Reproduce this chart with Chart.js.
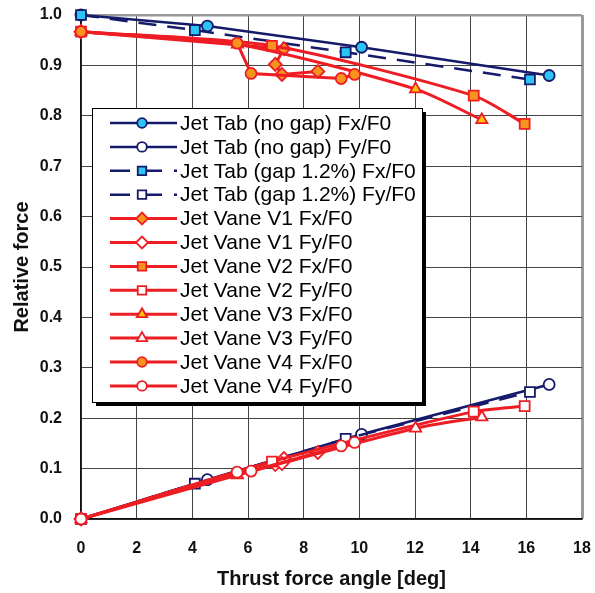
<!DOCTYPE html>
<html>
<head>
<meta charset="utf-8">
<script src="https://cdn.jsdelivr.net/npm/chart.js@4.4.1/dist/chart.umd.min.js"></script>
<style>
  body { margin: 0; background: #fff; }
  #wrap { width: 595px; height: 593px; position: relative; }
</style>
</head>
<body>
<div id="wrap"><canvas id="myChart"></canvas></div>
<script>
// series names (legend order)
const seriesNames = [
    "Jet Tab (no gap) Fx/F0", "Jet Tab (no gap) Fy/F0",
    "Jet Tab (gap 1.2%) Fx/F0", "Jet Tab (gap 1.2%) Fy/F0",
    "Jet Vane V1 Fx/F0", "Jet Vane V1 Fy/F0",
    "Jet Vane V2 Fx/F0", "Jet Vane V2 Fy/F0",
    "Jet Vane V3 Fx/F0", "Jet Vane V3 Fy/F0",
    "Jet Vane V4 Fx/F0", "Jet Vane V4 Fy/F0"
];

// thrust force angle [deg] per configuration
const tabNoGapAngle = [0, 4.54, 10.08, 16.82];
const tabGapAngle = [0, 4.09, 9.51, 16.13];
const vaneV1Angle = [0, 7.29, 6.98, 7.22, 8.51];
const vaneV2Angle = [0, 6.86, 14.11, 15.94];
const vaneV3Angle = [0, 5.62, 12.02, 14.40];
const vaneV4Angle = [0, 5.61, 6.11, 9.35, 9.83];

// relative forces
const tabNoGapFx = [1.0, 0.978, 0.936, 0.880];
const tabNoGapFy = [0, 0.078, 0.168, 0.267];
const tabGapFx = [1.0, 0.970, 0.926, 0.872];
const tabGapFy = [0, 0.070, 0.159, 0.252];
const vaneV1Fx = [0.967, 0.933, 0.902, 0.882, 0.888];
const vaneV1Fy = [0, 0.120, 0.108, 0.110, 0.132];
const vaneV2Fx = [0.967, 0.939, 0.840, 0.784];
const vaneV2Fy = [0, 0.114, 0.213, 0.224];
const vaneV3Fx = [0.967, 0.942, 0.853, 0.792];
const vaneV3Fy = [0, 0.087, 0.180, 0.202];
const vaneV4Fx = [0.967, 0.944, 0.884, 0.874, 0.882];
const vaneV4Fy = [0, 0.093, 0.095, 0.145, 0.152];

const xTicks = [0, 2, 4, 6, 8, 10, 12, 14, 16, 18];
const yTicks = [0, 0.1, 0.2, 0.3, 0.4, 0.5, 0.6, 0.7, 0.8, 0.9, 1.0];

const navy = "#151a6a";
const cyan = "#2cc4f2";
const red = "#ee1d24";
const orange = "#f7941d";
const yellow = "#ffc20e";
const dash = [18, 11];

function toPoints(xs, ys) {
    return xs.map((x, i) => ({ x: x, y: ys[i] }));
}

// build one dataset from its arrays and style
function makeSet(idx, xs, ys, color, fill, style, radius, dashed, tension) {
    return {
        label: seriesNames[idx],
        data: toPoints(xs, ys),
        showLine: true,
        borderColor: color,
        borderWidth: color === red ? 3 : 2.5,
        borderDash: dashed ? dash : [],
        tension: tension,
        pointStyle: style,
        pointRadius: radius,
        pointBorderWidth: 1.8,
        pointBorderColor: color,
        pointBackgroundColor: fill,
        clip: false,
        order: -idx
    };
}

const datasets = [
    makeSet(0, tabNoGapAngle, tabNoGapFx, navy, cyan, "circle", 5.5, false, 0),
    makeSet(1, tabNoGapAngle, tabNoGapFy, navy, "#fff", "circle", 5.5, false, 0),
    makeSet(2, tabGapAngle, tabGapFx, navy, cyan, "rect", 7, true, 0),
    makeSet(3, tabGapAngle, tabGapFy, navy, "#fff", "rect", 7, true, 0),
    makeSet(4, vaneV1Angle, vaneV1Fx, red, orange, "rectRot", 6.5, false, 0),
    makeSet(5, vaneV1Angle, vaneV1Fy, red, "#fff", "rectRot", 6.5, false, 0),
    makeSet(6, vaneV2Angle, vaneV2Fx, red, orange, "rect", 7, false, 0.25),
    makeSet(7, vaneV2Angle, vaneV2Fy, red, "#fff", "rect", 7, false, 0.25),
    makeSet(8, vaneV3Angle, vaneV3Fx, red, yellow, "triangle", 6.5, false, 0.25),
    makeSet(9, vaneV3Angle, vaneV3Fy, red, "#fff", "triangle", 6.5, false, 0.25),
    makeSet(10, vaneV4Angle, vaneV4Fx, red, orange, "circle", 5.5, false, 0),
    makeSet(11, vaneV4Angle, vaneV4Fy, red, "#fff", "circle", 5.5, false, 0)
];

// legend box drawn inside the plot, Excel style with shadow
const boxLegend = {
    id: "boxLegend",
    afterDraw(chart) {
        const ctx = chart.ctx;
        const left = 92, top = 108, w = 330, h = 294;
        ctx.save();
        ctx.fillStyle = "#000";
        ctx.fillRect(left + 4, top + 4, w, h);
        ctx.fillStyle = "#fff";
        ctx.fillRect(left, top, w, h);
        ctx.strokeStyle = "#000";
        ctx.lineWidth = 1;
        ctx.strokeRect(left + 0.5, top + 0.5, w, h);

        chart.data.datasets.forEach((ds, i) => {
            const y = 123 + i * 23.9;
            ctx.save();
            ctx.strokeStyle = ds.borderColor;
            ctx.lineWidth = ds.borderWidth;
            ctx.setLineDash(ds.borderDash.length ? [20, 12] : []);
            ctx.beginPath();
            ctx.moveTo(110, y);
            ctx.lineTo(177, y);
            ctx.stroke();
            ctx.setLineDash([]);
            ctx.fillStyle = ds.pointBackgroundColor;
            ctx.strokeStyle = ds.pointBorderColor;
            ctx.lineWidth = ds.pointBorderWidth;
            const r = ds.pointStyle === "rect" ? 6 : (ds.pointStyle === "circle" ? 4.8 : 6);
            Chart.helpers.drawPoint(ctx, { pointStyle: ds.pointStyle, rotation: 0, radius: r, borderWidth: ds.pointBorderWidth }, 142, y);
            ctx.restore();
            ctx.fillStyle = "#000";
            ctx.font = "21px 'Liberation Sans', Arial, sans-serif";
            ctx.textBaseline = "middle";
            ctx.fillText(ds.label, 180, y + 1);
        });
        ctx.restore();
    }
};

const lastX = xTicks[xTicks.length - 1];
const lastY = yTicks[yTicks.length - 1];

// drop the automatic label overhang so the plot edges land where wanted
function noOverhang(scale) {
    scale.paddingLeft = 0;
    scale.paddingRight = 0;
    scale.paddingTop = 0;
    scale.paddingBottom = 0;
}

new Chart(document.getElementById("myChart"), {
    type: "scatter",
    data: { datasets: datasets },
    options: {
        responsive: true,
        maintainAspectRatio: false,
        animation: false,
        layout: { padding: { left: 10, right: 13, top: 15, bottom: 0 } },
        plugins: { legend: { display: false }, tooltip: { enabled: false } },
        scales: {
            x: {
                type: "linear",
                min: xTicks[0],
                max: lastX,
                afterFit: scale => { scale.height = 74; noOverhang(scale); },
                afterBuildTicks: scale => { scale.ticks = xTicks.map(v => ({ value: v })); },
                ticks: {
                    padding: 20,
                    color: "#111",
                    font: { family: "'Liberation Sans', Arial", size: 16, weight: "bold" }
                },
                grid: {
                    drawTicks: false,
                    color: c => c.tick && c.tick.value === lastX ? "#9a9a9a" : "#444",
                    lineWidth: c => c.tick && c.tick.value === lastX ? 3 : 1
                },
                border: { color: "#111", width: 1.5 },
                title: {
                    display: true,
                    text: "Thrust force angle [deg]",
                    color: "#111",
                    padding: { top: 0, bottom: 2 },
                    font: { family: "'Liberation Sans', Arial", size: 20, weight: "bold" }
                }
            },
            y: {
                type: "linear",
                min: yTicks[0],
                max: lastY,
                afterFit: scale => { scale.width = 71; noOverhang(scale); },
                afterBuildTicks: scale => { scale.ticks = yTicks.map(v => ({ value: v })); },
                ticks: {
                    padding: 19,
                    color: "#111",
                    callback: v => v.toFixed(1),
                    font: { family: "'Liberation Sans', Arial", size: 16, weight: "bold" }
                },
                grid: {
                    drawTicks: false,
                    color: c => c.tick && c.tick.value === lastY ? "#9a9a9a" : "#444",
                    lineWidth: c => c.tick && c.tick.value === lastY ? 2.5 : 1
                },
                border: { color: "#111", width: 1.5 },
                title: {
                    display: true,
                    text: "Relative force",
                    color: "#111",
                    padding: { top: 0, bottom: 0 },
                    font: { family: "'Liberation Sans', Arial", size: 20, weight: "bold" }
                }
            }
        }
    },
    plugins: [boxLegend]
});
</script>
</body>
</html>
